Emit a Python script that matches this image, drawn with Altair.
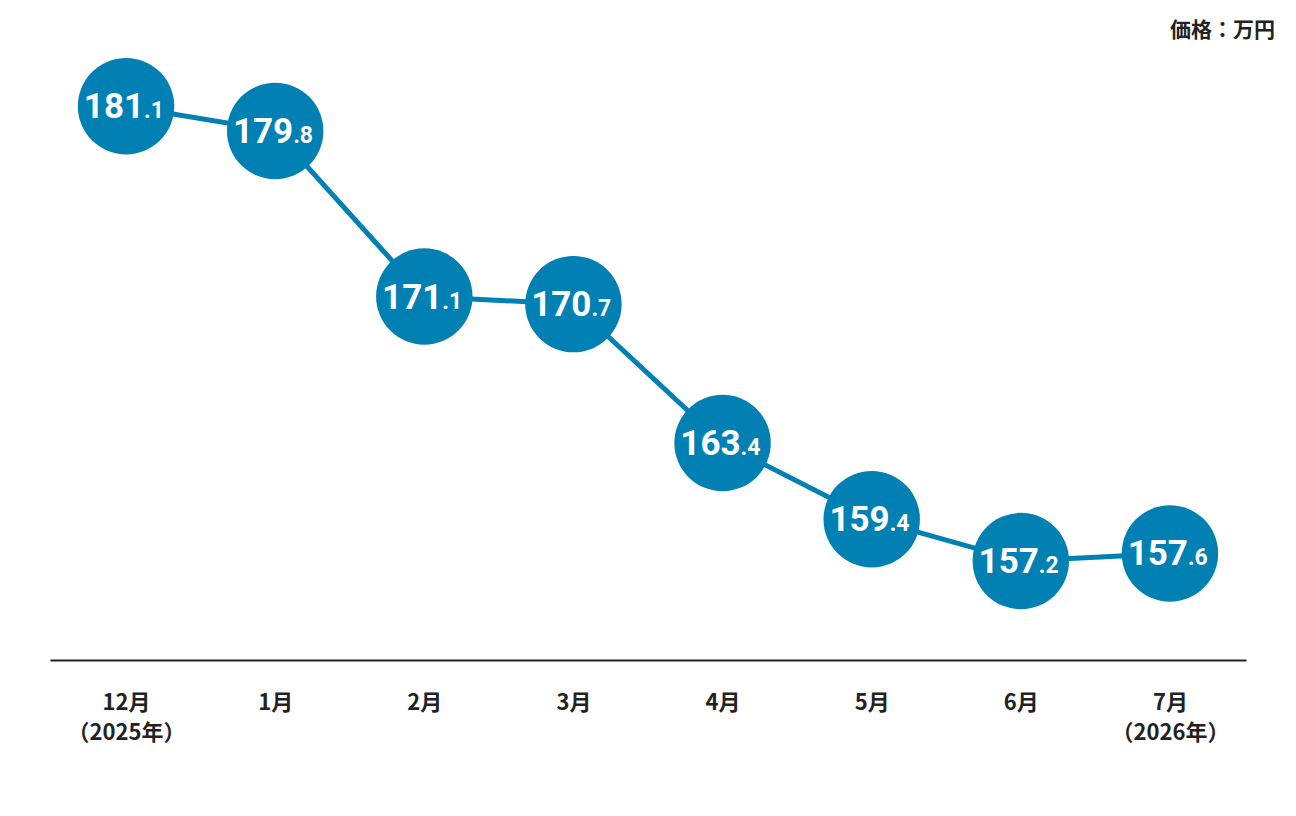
import altair as alt
import pandas as pd

months = ["12月|（2025年）", "1月", "2月", "3月", "4月", "5月", "6月", "7月|（2026年）"]
prices = [181.1, 179.8, 171.1, 170.7, 163.4, 159.4, 157.2, 157.6]
unit_label = "価格：万円"

df = pd.DataFrame({"month": months, "price": prices})
df["int_part"] = [f"{p:.1f}".split(".")[0] for p in prices]
df["dec_part"] = ["." + f"{p:.1f}".split(".")[1] for p in prices]

BLUE = "#0080B3"
DARK = "#222222"
W, H = 1196, 628

x = alt.X(
    "month:O",
    sort=months,
    scale=alt.Scale(type="point", padding=0.51),
    axis=alt.Axis(
        title=None,
        ticks=False,
        grid=False,
        domainColor=DARK,
        domainWidth=2,
        labelExpr="split(datum.value, '|')",
        labelFont="Noto Sans CJK JP",
        labelFontSize=22,
        labelFontWeight="bold",
        labelColor=DARK,
        labelLineHeight=30,
        labelBaseline="top",
        labelPadding=32,
        labelAngle=0,
    ),
)
y = alt.Y("price:Q", scale=alt.Scale(domain=[152, 185], nice=False, zero=False), axis=None)

base = alt.Chart(df).encode(x=x, y=y)

line = base.mark_line(color=BLUE, strokeWidth=5)
dots = base.mark_circle(color=BLUE, opacity=1, size=9300)
int_text = base.mark_text(
    font="Roboto", fontSize=35, fontWeight="bold", color="white",
    align="right", baseline="alphabetic", dx=18, dy=12,
).encode(text="int_part:N")
dec_text = base.mark_text(
    font="Roboto", fontSize=23, fontWeight="bold", color="white",
    align="left", baseline="alphabetic", dx=18, dy=12,
).encode(text="dec_part:N")

unit = alt.Chart(pd.DataFrame({"t": [unit_label]})).mark_text(
    font="Noto Sans CJK JP", fontSize=21, fontWeight="bold", color=DARK,
    align="right", baseline="middle",
).encode(x=alt.value(1225), y=alt.value(-1), text="t:N")

chart = alt.layer(line, dots, int_text, dec_text, unit).properties(
    width=W, height=H,
    autosize=alt.AutoSizeParams(type="none"),
    padding={"left": 42, "top": 24, "right": 40, "bottom": 130},
    background="white",
).configure_view(stroke=None)

chart.save("out.html", embed_options={"renderer": "svg", "actions": False})
